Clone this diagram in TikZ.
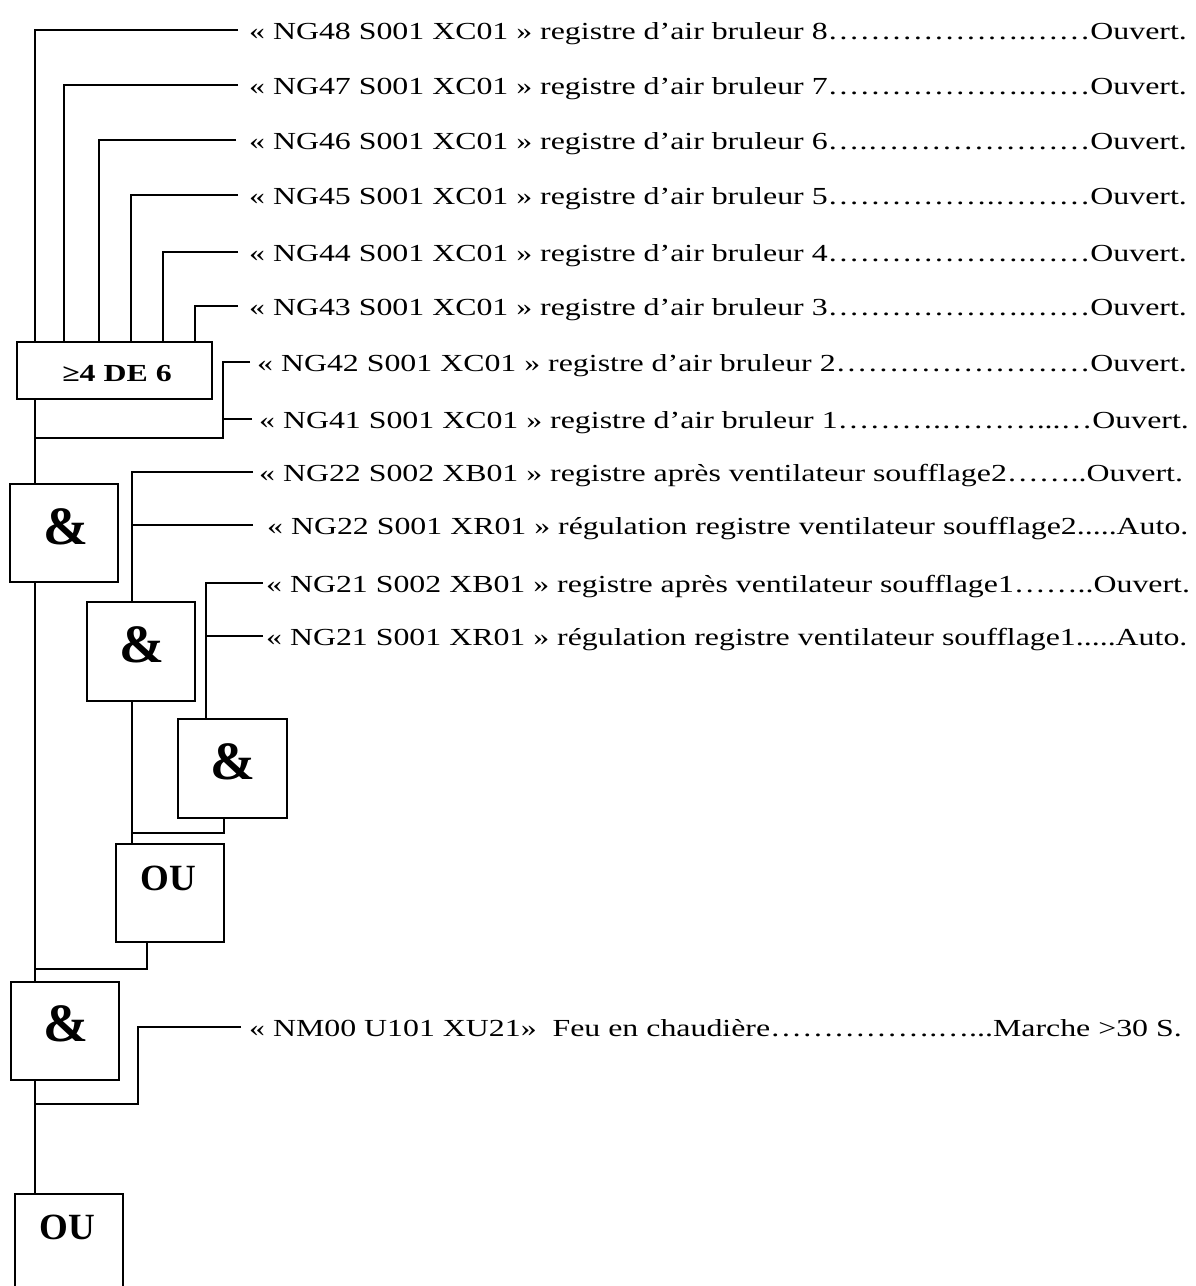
\documentclass[tikz,border=0pt]{standalone}
\usepackage{fontspec}
\setmainfont{Liberation Serif}
\newfontfamily\lblfont{Liberation Serif}[FakeStretch=1.3, Ligatures=NoCommon]
\usetikzlibrary{calc}
\begin{document}
\begin{tikzpicture}[x=1pt,y=-1pt,
  wire/.style={line width=1.5pt},
  gate/.style={draw, line width=1.5pt, inner sep=0pt, fill=white},
  lbl/.style={anchor=west, inner sep=0pt, font=\lblfont\fontsize{24.5}{28}\selectfont, text height=18pt, text depth=0pt},
  gtxt/.style={inner sep=0pt, font=\lblfont\bfseries\fontsize{24.5}{28}\selectfont},
  amp/.style={inner sep=0pt, font=\bfseries\fontsize{54}{60}\selectfont},
  outxt/.style={inner sep=0pt, font=\bfseries\fontsize{37}{42}\selectfont}]
\clip (0,0) rectangle (1196,1286);
\useasboundingbox (0,0) rectangle (1196,1286);
\fill[white] (0,0) rectangle (1196,1286);

% labels
\node[lbl] (t1) at (249,30) {« NG48 S001 XC01 » registre d’air bruleur 8{………}{………}.{……}Ouvert.};
\node[lbl] (t2) at (249,85) {« NG47 S001 XC01 » registre d’air bruleur 7{………}{………}.{……}Ouvert.};
\node[lbl] (t3) at (249,140) {« NG46 S001 XC01 » registre d’air bruleur 6….{………}{………}{…}Ouvert.};
\node[lbl] (t4) at (249,195) {« NG45 S001 XC01 » registre d’air bruleur 5{………}{……}.{………}Ouvert.};
\node[lbl] (t5) at (249,252) {« NG44 S001 XC01 » registre d’air bruleur 4{………}{………}.{……}Ouvert.};
\node[lbl] (t6) at (249,306) {« NG43 S001 XC01 » registre d’air bruleur 3{………}{………}.{……}Ouvert.};
\node[lbl] (t7) at (257,362) {« NG42 S001 XC01 » registre d’air bruleur 2{………}{………}{……}Ouvert.};
\node[lbl] (t8) at (259,419) {« NG41 S001 XC01 » registre d’air bruleur 1……….………...…Ouvert.};
\node[lbl] (t9) at (259,472) {« NG22 S002 XB01 » registre après ventilateur soufflage2……..Ouvert.};
\node[lbl] (t10) at (267,525) {« NG22 S001 XR01 » régulation registre ventilateur soufflage2.....Auto.};
\node[lbl] (t11) at (266,583) {« NG21 S002 XB01 » registre après ventilateur soufflage1……..Ouvert.};
\node[lbl] (t12) at (266,636) {« NG21 S001 XR01 » régulation registre ventilateur soufflage1.....Auto.};
\node[lbl] (t13) at (249,1027) {« NM00 U101 XU21»~~Feu en chaudière{………}{……}.{…}...Marche >30 S.};

% gates
\node[gate, minimum width=195pt, minimum height=57pt] (g4) at (114.5,370.5) {};
\node[gtxt] (g4t) at (117,374) {≥4 DE 6};
\node[gate, minimum width=108pt, minimum height=98pt] (g1) at (64,533) {};
\node[amp] (g1t) at (65.5,527) {\&};
\node[gate, minimum width=108pt, minimum height=99pt] (g2) at (141,651.5) {};
\node[amp] (g2t) at (142,645) {\&};
\node[gate, minimum width=109pt, minimum height=99pt] (g3) at (232.5,768.5) {};
\node[amp] (g3t) at (232.5,762) {\&};
\node[gate, minimum width=108pt, minimum height=98pt] (ou1) at (170,893) {};
\node[outxt] (ou1t) at (168.5,878) {OU};
\node[gate, minimum width=108pt, minimum height=98pt] (g5) at (65,1031) {};
\node[amp] (g5t) at (65.5,1024) {\&};
\node[gate, minimum width=108pt, minimum height=98pt] (ou2) at (69,1243) {};
\node[outxt] (ou2t) at (67.5,1227) {OU};

% coordinates
\coordinate (bus) at (35,0);
\coordinate (x2) at (64,0);
\coordinate (x3) at (99,0);
\coordinate (x4) at (131,0);
\coordinate (x5) at (163,0);
\coordinate (x6) at (195,0);
\coordinate (j1) at (223,438);
\coordinate (c2) at (132,0);
\coordinate (c3) at (206,0);
\coordinate (j4) at (224,833);
\coordinate (j2) at (147,969);
\coordinate (j3) at (138,1104);

% wires
\draw[wire] ([xshift=-11pt]t1.west) -| (bus |- g4.north);
\draw[wire] ([xshift=-11pt]t2.west) -| (x2 |- g4.north);
\draw[wire] ([xshift=-13pt]t3.west) -| (x3 |- g4.north);
\draw[wire] ([xshift=-11pt]t4.west) -| (x4 |- g4.north);
\draw[wire] ([xshift=-11pt]t5.west) -| (x5 |- g4.north);
\draw[wire] ([xshift=-11pt]t6.west) -| (x6 |- g4.north);
\draw[wire] (bus |- g4.south) -- (bus |- g1.north);
\draw[wire] ([xshift=-7pt]t7.west) -| (j1) -- (bus |- j1);
\draw[wire] ([xshift=-7pt]t8.west) -- (t8.west -| j1);
\draw[wire] ([xshift=-6pt]t9.west) -| (c2 |- g2.north);
\draw[wire] ([xshift=-14pt]t10.west) -- (t10.west -| c2);
\draw[wire] ([xshift=-3pt]t11.west) -| (c3 |- g3.north);
\draw[wire] ([xshift=-3pt]t12.west) -- (t12.west -| c3);
\draw[wire] (c2 |- g2.south) -- (c2 |- ou1.north);
\draw[wire] (j4 |- g3.south) -- (j4) -- (c2 |- j4);
\draw[wire] (bus |- g1.south) -- (bus |- g5.north);
\draw[wire] (j2 |- ou1.south) -- (j2) -- (bus |- j2);
\draw[wire] ([xshift=-8pt]t13.west) -| (j3) -- (bus |- j3);
\draw[wire] (bus |- g5.south) -- (bus |- ou2.north);
\end{tikzpicture}
\end{document}
